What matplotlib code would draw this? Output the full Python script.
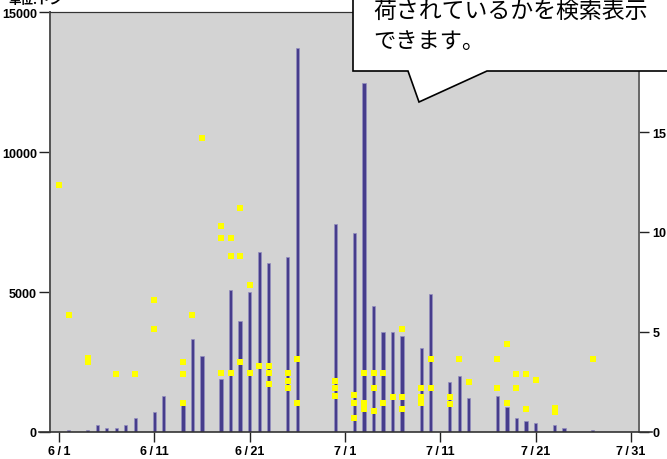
import matplotlib
matplotlib.use('Agg')
import matplotlib.pyplot as plt
from matplotlib.patches import Polygon
from matplotlib.lines import Line2D

# 6/1 を 0 日目とした日数
bar_days = [1, 3, 4, 5, 6, 7, 8, 10, 11, 13, 14, 15, 17, 18, 19, 20, 21, 22, 24, 25,
            29, 31, 32, 33, 34, 35, 36, 38, 39, 41, 42, 43, 46, 47, 48, 49, 50, 52, 53, 56]
# 入荷量
bar_vals = [70, 70, 235, 155, 155, 235, 500, 710, 1275, 950, 3310, 2700, 1890, 5070, 3950,
            4990, 6430, 6025, 6240, 13700, 7440, 7110, 12450, 4510, 3560, 3560, 3420, 3000,
            4920, 1800, 1990, 1200, 1285, 880, 490, 380, 310, 240, 155, 70]

# 単価（右軸）
pt_days = [0, 1, 3, 3, 6, 8, 10, 10, 13, 13, 13, 14, 15,
           17, 17, 17, 18, 18, 18, 19, 19, 19, 20, 20, 21, 22, 22, 22,
           24, 24, 24, 25, 25, 29, 29, 29, 31, 31, 31, 32, 32, 32,
           33, 33, 33, 34, 34, 35, 36, 36, 36, 38, 38, 38, 39, 39,
           41, 41, 42, 43, 46, 46, 47, 47, 48, 48, 49, 49, 50, 52, 52, 56]
pt_vals = [12.35, 5.87, 3.5, 3.7, 2.92, 2.92, 6.62, 5.13, 3.5, 2.92, 1.45, 5.87, 14.7,
           10.3, 9.72, 2.93, 9.72, 8.82, 2.93, 11.2, 8.82, 3.5, 7.35, 2.93, 3.3, 3.3, 2.93, 2.4,
           2.93, 2.57, 2.2, 3.65, 1.45, 2.57, 2.2, 1.82, 1.87, 1.45, 0.7, 2.93, 1.45, 1.15,
           2.93, 2.18, 1.03, 2.93, 1.45, 1.77, 5.13, 1.77, 1.15, 2.18, 1.77, 1.45, 3.67, 2.18,
           1.77, 1.4, 3.67, 2.5, 3.65, 2.18, 4.4, 1.43, 2.92, 2.18, 2.92, 1.13, 2.6, 1.0, 1.2, 3.65]

tick_days = [0, 10, 20, 30, 40, 50, 60]
tick_labels = ['6\u2009/\u20091', '6\u2009/\u200911', '6\u2009/\u200921', '7\u2009/\u20091',
               '7\u2009/\u200911', '7\u2009/\u200921', '7\u2009/\u200931']

plt.rcParams['font.family'] = ['Liberation Sans', 'DejaVu Sans']

W, H = 667, 460
fig = plt.figure(figsize=(W / 100, H / 100), dpi=100)
ax = fig.add_axes([50 / W, 27 / H, 589 / W, 420 / H])
ax.set_facecolor('#d3d3d3')

ax.bar(bar_days, bar_vals, width=0.34, color='#463c8c', edgecolor='#948fbf', linewidth=0.5, zorder=2)
ax.set_xlim(-0.95, 60.86)
ax.set_ylim(0, 15000)
ax.set_yticks([0, 5000, 10000, 15000])
ax.set_xticks(tick_days)
ax.set_xticklabels(tick_labels)

ax2 = ax.twinx()
ax2.plot(pt_days, pt_vals, 's', color='#ffff00', markersize=3.8, markeredgewidth=0, zorder=3)
ax2.set_ylim(0, 21)
ax2.set_yticks([0, 5, 10, 15])
ax2.set_xlim(-0.95, 60.86)

for a in (ax, ax2):
    a.spines['bottom'].set_visible(False)
    a.spines['top'].set_color('#333333')
    a.spines['left'].set_color('#555555')
    a.spines['left'].set_linewidth(1.3)
    a.spines['right'].set_color('#666666')
    a.spines['right'].set_linewidth(1.2)

ax.tick_params(axis='y', length=8, width=1, color='#222222', pad=1.5, labelsize=9)
ax.tick_params(axis='x', length=7.5, width=1, color='#222222', pad=2, labelsize=9)
ax2.tick_params(axis='y', length=7.5, width=1, color='#222222', pad=2, labelsize=9)
for lab in ax.get_yticklabels() + ax.get_xticklabels() + ax2.get_yticklabels():
    lab.set_fontweight('bold')

# 延長した横軸の線
fig.add_artist(Line2D([39 / W, 652 / W], [27 / H, 27 / H], transform=fig.transFigure,
                      color='#333333', linewidth=1.2, zorder=5))

fig.text(8 / W, (H - 4) / H, '単位:トン', fontsize=9, fontweight='bold',
         family=['Noto Sans CJK JP', 'DejaVu Sans'], va='baseline', ha='left')

# 吹き出し
pts = [(353, -30), (720, -30), (720, 72), (487, 72), (419, 103), (408, 72), (353, 72)]
callout = Polygon([(x / W, (H - y) / H) for x, y in pts], closed=True, transform=fig.transFigure,
                  facecolor='white', edgecolor='black', linewidth=1.2, zorder=10)
fig.add_artist(callout)
fig.text(373 / W, (H - 11) / H, '荷されているかを検索表示', fontsize=16.5,
         family=['Noto Sans CJK JP', 'DejaVu Sans'], va='center', ha='left', zorder=11)
fig.text(373 / W, (H - 42) / H, 'できます。', fontsize=16,
         family=['Noto Sans CJK JP', 'DejaVu Sans'], va='center', ha='left', zorder=11)

fig.savefig('out.png', dpi=100)
